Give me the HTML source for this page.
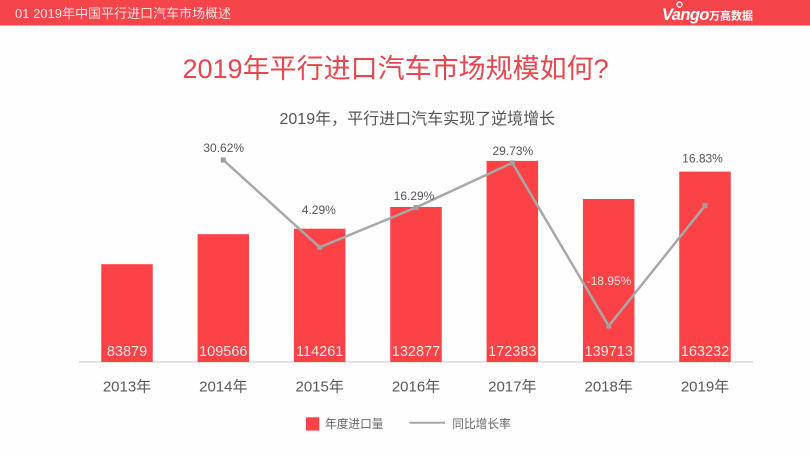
<!DOCTYPE html>
<html>
<head>
<meta charset="utf-8">
<style>
  html,body{margin:0;padding:0;background:#ffffff;}
  body{width:810px;height:456px;overflow:hidden;}
  svg{display:block;}
  .lat{font-family:"Liberation Sans","Noto Sans CJK SC",sans-serif;}
</style>
</head>
<body>
<svg width="810" height="456" viewBox="0 0 810 456" xmlns="http://www.w3.org/2000/svg">
  <rect x="0" y="0" width="810" height="456" fill="#fefefe"/>
  <!-- header -->
  <rect x="0" y="0" width="810" height="25.5" fill="#f5454b"/>
  <text x="15" y="18" class="lat" font-size="13" fill="#fde2e2">01 2019年中国平行进口汽车市场概述</text>
  <!-- logo -->
  <circle cx="679.5" cy="4.5" r="2.6" fill="none" stroke="#ffffff" stroke-width="1.2"/>
  <text x="662" y="20" font-family="Liberation Sans, sans-serif" font-size="16.5" font-weight="bold" font-style="italic" fill="#ffffff" letter-spacing="-0.6">Vango</text>
  <text x="709" y="19.5" font-family="Noto Sans CJK SC, sans-serif" font-size="11" font-weight="bold" fill="#ffffff">万高数据</text>

  <!-- title -->
  <text x="182.5" y="78" class="lat" font-size="27" fill="#e6464e">2019年平行进口汽车市场规模如何?</text>
  <text x="279.5" y="124" class="lat" font-size="16" fill="#555555">2019年，平行进口汽车实现了逆境增长</text>

  <!-- axis line -->
  <line x1="79" y1="362" x2="753" y2="362" stroke="#dcdcdc" stroke-width="1.5"/>

  <!-- bars -->
  <g fill="#fb4246">
    <rect x="101.25" y="264.2" width="51.5" height="97.8"/>
    <rect x="197.55" y="234.2" width="51.5" height="127.8"/>
    <rect x="293.95" y="228.7" width="51.5" height="133.3"/>
    <rect x="390.25" y="207.0" width="51.5" height="155.0"/>
    <rect x="486.55" y="160.9" width="51.5" height="201.1"/>
    <rect x="582.95" y="199.0" width="51.5" height="163.0"/>
    <rect x="679.25" y="171.6" width="51.5" height="190.4"/>
  </g>

  <!-- bar values -->
  <g class="lat" font-size="14.5" fill="#fde6e6" text-anchor="middle">
    <text x="127" y="356">83879</text>
    <text x="223.3" y="356">109566</text>
    <text x="319.7" y="356">114261</text>
    <text x="416" y="356">132877</text>
    <text x="512.3" y="356">172383</text>
    <text x="608.7" y="356">139713</text>
    <text x="705" y="356">163232</text>
  </g>

  <!-- line series -->
  <polyline points="223.3,160 319.7,247.3 416,207.5 512.3,162.9 608.7,326 705,205.7" fill="none" stroke="#a8a8a8" stroke-width="2.5" stroke-linejoin="round"/>
  <g fill="#a0a0a0">
    <rect x="220.8" y="157.5" width="5" height="5"/>
    <rect x="317.2" y="244.8" width="5" height="5"/>
    <rect x="413.5" y="205" width="5" height="5"/>
    <rect x="509.8" y="160.4" width="5" height="5"/>
    <rect x="606.2" y="323.5" width="5" height="5"/>
    <rect x="702.5" y="203.2" width="5" height="5"/>
  </g>

  <!-- percentage labels -->
  <g class="lat" font-size="12" fill="#555555" text-anchor="middle">
    <text x="223.7" y="152">30.62%</text>
    <text x="318.8" y="214">4.29%</text>
    <text x="414" y="200">16.29%</text>
    <text x="512.8" y="155">29.73%</text>
    <text x="609" y="285" fill="#f0e4e4">-18.95%</text>
    <text x="702.5" y="162.3">16.83%</text>
  </g>

  <!-- x-axis labels -->
  <g class="lat" font-size="15" fill="#595959" text-anchor="middle">
    <text x="127" y="391.5">2013年</text>
    <text x="223.3" y="391.5">2014年</text>
    <text x="319.7" y="391.5">2015年</text>
    <text x="416" y="391.5">2016年</text>
    <text x="512.3" y="391.5">2017年</text>
    <text x="608.7" y="391.5">2018年</text>
    <text x="705" y="391.5">2019年</text>
  </g>

  <!-- legend -->
  <rect x="306" y="417.3" width="13.3" height="13.3" fill="#fb4246"/>
  <text x="325" y="428" class="lat" font-size="11.7" fill="#666666">年度进口量</text>
  <line x1="409.3" y1="422.7" x2="445" y2="422.7" stroke="#a8a8a8" stroke-width="2"/>
  <text x="452.3" y="428" class="lat" font-size="11.7" fill="#666666">同比增长率</text>
</svg>
</body>
</html>
